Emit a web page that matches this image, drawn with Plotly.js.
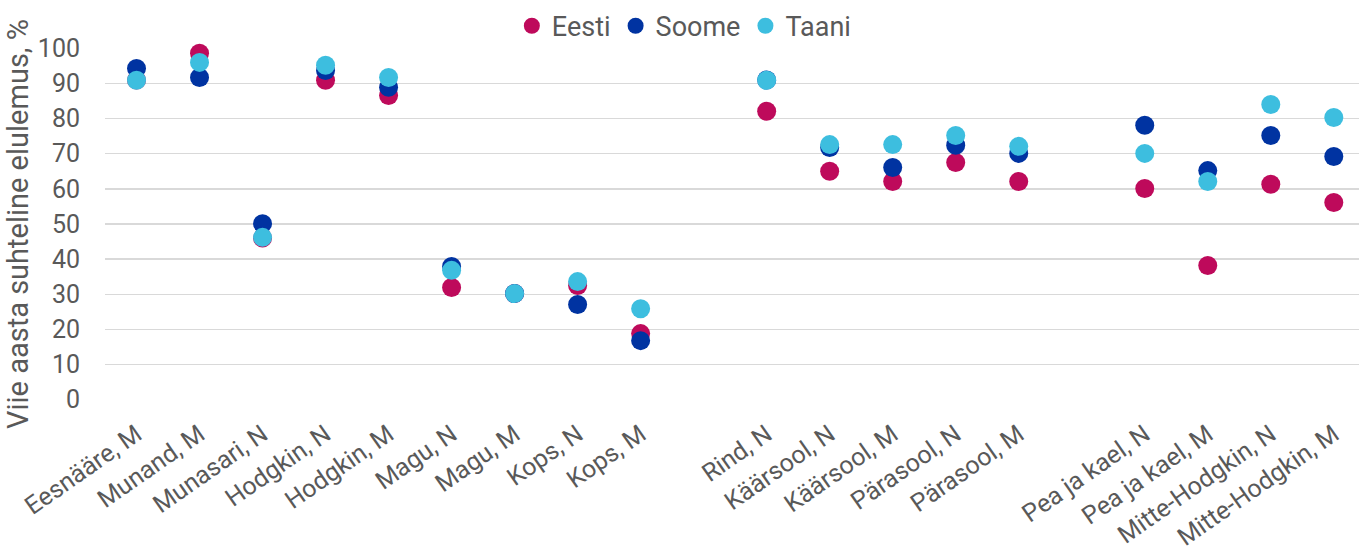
<!DOCTYPE html>
<html>
<head>
<meta charset="utf-8">
<script src="https://cdn.plot.ly/plotly-3.0.1.min.js"></script>
<style>html,body{margin:0;padding:0;background:#fff;}#chart{width:1359px;height:558px;}</style>
</head>
<body>
<div id="chart"></div>
<script>
const categories = ["Eesnääre, M","Munand, M","Munasari, N","Hodgkin, N","Hodgkin, M","Magu, N","Magu, M","Kops, N","Kops, M",
  "Rind, N","Käärsool, N","Käärsool, M","Pärasool, N","Pärasool, M",
  "Pea ja kael, N","Pea ja kael, M","Mitte-Hodgkin, N","Mitte-Hodgkin, M"];
const axisOrder = ["Eesnääre, M","Munand, M","Munasari, N","Hodgkin, N","Hodgkin, M","Magu, N","Magu, M","Kops, N","Kops, M"," ",
  "Rind, N","Käärsool, N","Käärsool, M","Pärasool, N","Pärasool, M","  ",
  "Pea ja kael, N","Pea ja kael, M","Mitte-Hodgkin, N","Mitte-Hodgkin, M"];
const eesti = [91, 98.6, 46, 90.9, 86.6, 31.9, 30.2, 32.5, 18.8, 82.1, 65.0, 62.1, 67.5, 62.1, 60.1, 38.2, 61.3, 56.1];
const soome = [94.3, 91.7, 50.1, 93.7, 88.9, 37.9, 30.2, 27.1, 16.8, 91, 71.8, 66.1, 72.4, 70.1, 78.1, 65.2, 75.2, 69.2];
const taani = [90.9, 96.0, 46.2, 95.2, 91.7, 36.8, 30.2, 33.6, 25.9, 90.9, 72.6, 72.6, 75.2, 72.1, 70.1, 62.1, 84.0, 80.3];
const seriesNames = ["Eesti","Soome","Taani"];
const colors = ["#BE0A5B","#0033A1","#3DBEDF"];

const data = [eesti, soome, taani].map((vals, i) => ({
  type: "scatter", mode: "markers", name: seriesNames[i],
  x: categories, y: vals, cliponaxis: false,
  marker: {color: colors[i], size: 19}
}));

const layout = {
  width: 1359, height: 558,
  margin: {l: 105, r: 0, t: 48, b: 158},
  paper_bgcolor: "#fff", plot_bgcolor: "#fff",
  font: {family: "Roboto, 'Liberation Sans', sans-serif", color: "#595959"},
  showlegend: true,
  legend: {orientation: "h", x: 0.462, xanchor: "center", y: 1.062, yanchor: "middle",
    font: {size: 27, color: "#595959"}, itemwidth: 30, tracegroupgap: 0},
  xaxis: {type: "category", categoryorder: "array", categoryarray: axisOrder,
    range: [-0.5, 19.4], tickangle: -35, tickfont: {size: 25, color: "#595959"},
    showgrid: false, zeroline: false, showline: false, ticks: "", ticklabelstandoff: 14},
  yaxis: {range: [-0.1, 100.1], tickvals: [0,10,20,30,40,50,60,70,80,90,100],
    tickfont: {size: 25, color: "#595959"}, gridcolor: "#d9d9d9", gridwidth: 1.5,
    zeroline: false, showline: false, ticks: "", ticklabelstandoff: 24,
    title: {text: "Viie aasta suhteline elulemus, %", font: {size: 29, color: "#595959"}, standoff: 0}}
};
Plotly.newPlot("chart", data, layout, {displayModeBar: false, staticPlot: true});
</script>
</body>
</html>
